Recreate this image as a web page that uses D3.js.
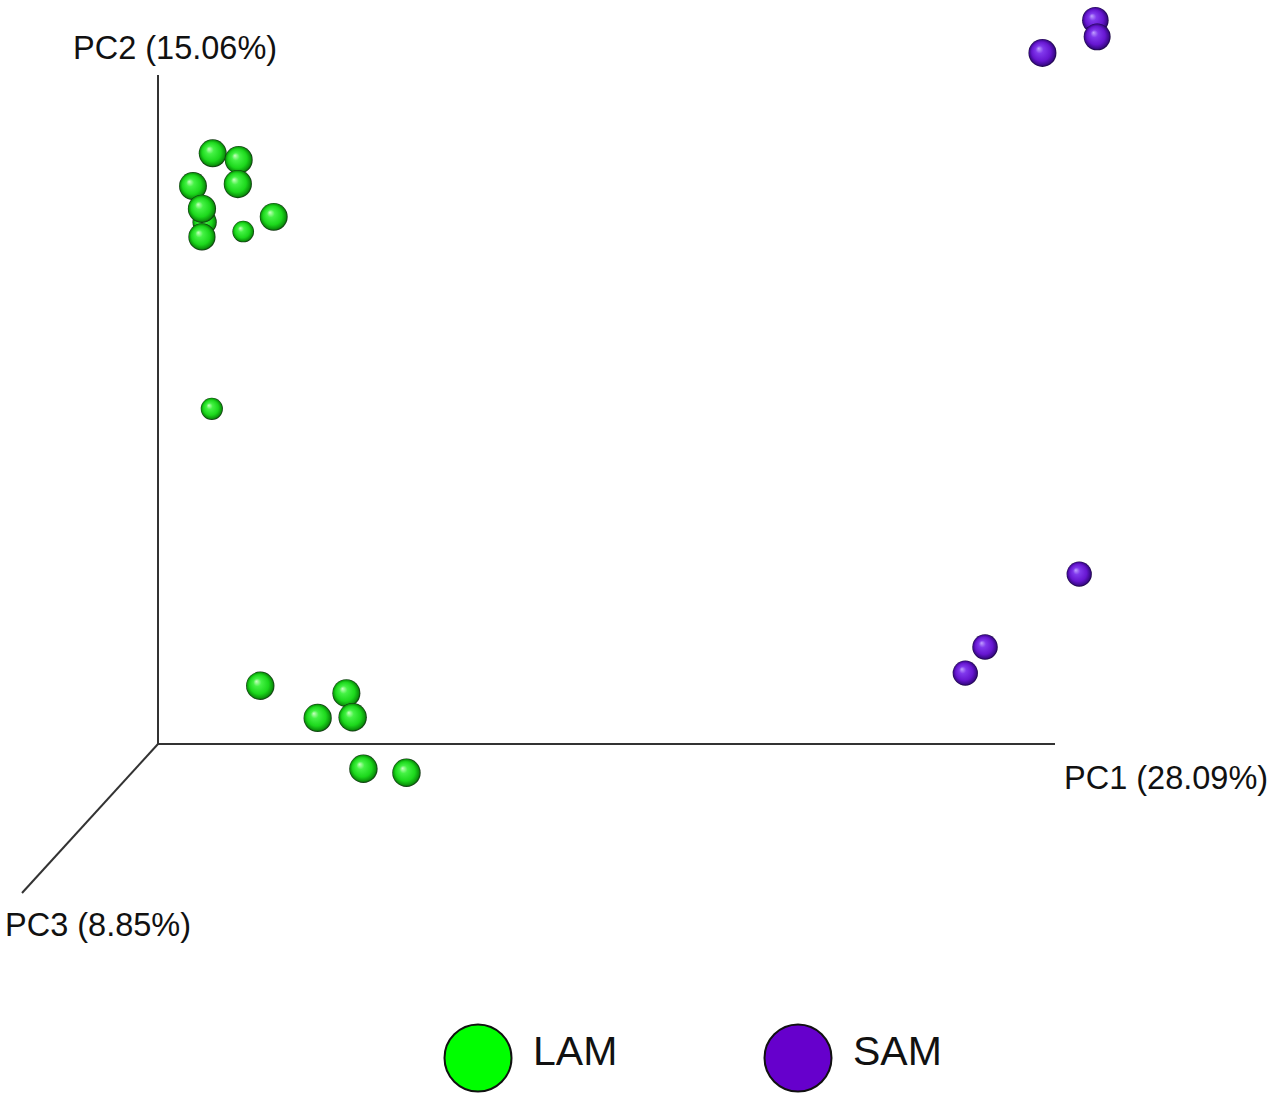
<!DOCTYPE html>
<html>
<head>
<meta charset="utf-8">
<script src="https://cdn.jsdelivr.net/npm/d3@7"></script>
<style>
  body { margin: 0; background: #fff; }
  text { font-family: "Liberation Sans", Arial, sans-serif; fill: #111; }
</style>
</head>
<body>
<svg width="1274" height="1101"></svg>
<script>
// projected PCoA scores (screen-plane PC1 / PC2) and depth along PC3
var groups = ['LAM', 'SAM'];
var colors = ['#00ff00', '#6600cc'];
var axisLabels = ['PC1 (28.09%)', 'PC2 (15.06%)', 'PC3 (8.85%)'];

var sampleGroup = ['LAM', 'LAM', 'LAM', 'LAM', 'LAM', 'LAM', 'LAM', 'LAM', 'LAM', 'LAM',
  'LAM', 'LAM', 'LAM', 'LAM', 'LAM', 'LAM',
  'SAM', 'SAM', 'SAM', 'SAM', 'SAM', 'SAM'];
var pc1 = [5.2, 6.1, 9.0, 3.9, 8.9, 4.9, 4.9, 9.5, 12.9, 6.0,
  11.4, 21.0, 17.8, 21.7, 22.9, 27.7,
  98.6, 104.5, 104.7, 102.7, 92.2, 90.0];
var pc2 = [78.0, 88.3, 87.3, 83.4, 83.7, 80.0, 75.8, 76.6, 78.8, 50.1,
  8.7, 7.6, 3.9, 4.0, -3.7, -4.3,
  103.3, 108.2, 105.7, 25.4, 14.5, 10.6];
var pc3 = [6, 9.5, 9.5, 9.5, 9.8, 9.8, 8.8, 3.5, 9.5, 4.0,
  10, 9.6, 9.8, 10, 10, 10,
  9.6, 8.2, 8.6, 7, 7.2, 7];

var svg = d3.select('svg');

var x = d3.scaleLinear().domain([0, 100]).range([158, 1055]);
var y = d3.scaleLinear().domain([0, 100]).range([744, 75]);
var r = d3.scaleLinear().domain([0, 10]).range([9, 14.2]);
var color = d3.scaleOrdinal().domain(groups).range(colors);

// sphere shading
var defs = svg.append('defs');
var shades = {
  LAM: ['#c8ffc0', '#44f244', '#1cd81c', '#0c960c', '#0f2e0f'],
  SAM: ['#c0a0ff', '#8038ec', '#6616d0', '#3d0a8e', '#180440']
};
groups.forEach(function(g) {
  var grad = defs.append('radialGradient')
    .attr('id', 'sphere-' + g)
    .attr('cx', '50%').attr('cy', '50%').attr('r', '50%')
    .attr('fx', '36%').attr('fy', '34%');
  [0, 0.28, 0.68, 0.9, 1].forEach(function(o, i) {
    grad.append('stop').attr('offset', o).attr('stop-color', shades[g][i]);
  });
});

// axes
var origin = [x(0), y(0)];
var axisG = svg.append('g').attr('stroke', '#333').attr('stroke-width', 2);
axisG.append('line')
  .attr('x1', origin[0]).attr('y1', origin[1])
  .attr('x2', x(100)).attr('y2', origin[1]);
axisG.append('line')
  .attr('x1', origin[0]).attr('y1', origin[1])
  .attr('x2', origin[0]).attr('y2', y(100));
axisG.append('line')
  .attr('x1', origin[0]).attr('y1', origin[1])
  .attr('x2', 22).attr('y2', 893);

svg.append('text').attr('x', 1064).attr('y', 789)
  .style('font-size', '32.5px').text(axisLabels[0]);
svg.append('text').attr('x', 73).attr('y', 59)
  .style('font-size', '32.5px').text(axisLabels[1]);
svg.append('text').attr('x', 5).attr('y', 936)
  .style('font-size', '32.5px').text(axisLabels[2]);

// points, back to front
var points = pc1.map(function(d, i) {
  return {pc1: d, pc2: pc2[i], pc3: pc3[i], group: sampleGroup[i]};
});
points.sort(function(a, b) { return a.pc3 - b.pc3; });

svg.append('g').selectAll('circle')
  .data(points)
  .enter()
  .append('circle')
  .attr('cx', function(d) { return x(d.pc1); })
  .attr('cy', function(d) { return y(d.pc2); })
  .attr('r', function(d) { return r(d.pc3); })
  .attr('fill', function(d) { return 'url(#sphere-' + d.group + ')'; });

// legend
var legend = svg.append('g').selectAll('g')
  .data(groups)
  .enter()
  .append('g')
  .attr('transform', function(d, i) {
    return 'translate(' + (478 + i * 320) + ',' + 1058 + ')';
  });
legend.append('circle')
  .attr('r', 33.5)
  .attr('fill', function(d) { return color(d); })
  .attr('stroke', '#111')
  .attr('stroke-width', 2);
legend.append('text')
  .attr('x', 55)
  .attr('y', 7)
  .style('font-size', '41px')
  .text(function(d) { return d; });
</script>
</body>
</html>
